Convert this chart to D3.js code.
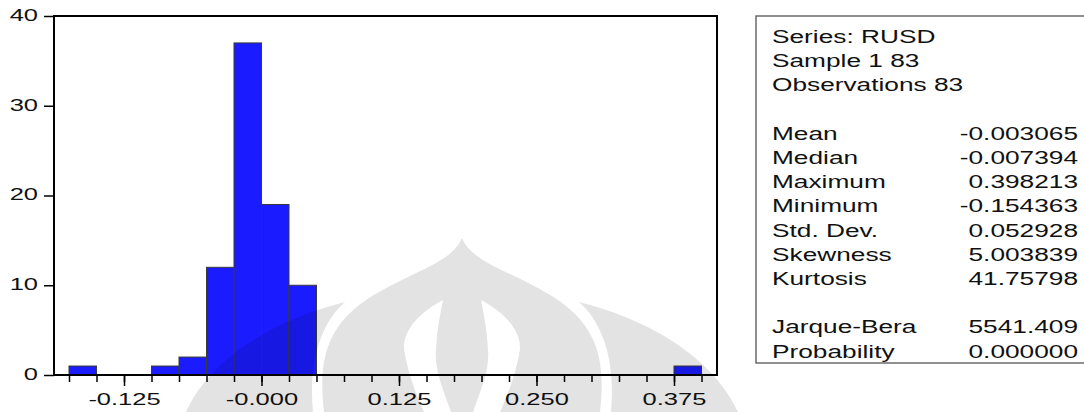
<!DOCTYPE html>
<html>
<head>
<meta charset="utf-8">
<script src="https://cdn.jsdelivr.net/npm/d3@7"></script>
<style>
  body { margin: 0; background: #fff; }
  text { font-family: "Liberation Sans", Arial, sans-serif; fill: #111; }
</style>
</head>
<body>
<svg id="chart" width="1084" height="412"></svg>
<script>
// histogram of RUSD, bins of width 0.025 (only non-empty bins listed)
const binStarts = [-0.175, -0.1, -0.075, -0.05, -0.025, 0, 0.025, 0.375];
const binCounts = [1, 1, 2, 12, 37, 19, 10, 1];
const binWidth = 0.025;

// axis ticks
const xMajorTicks = [-0.125, 0, 0.125, 0.25, 0.375];
const xTickLabels = ["-0.125", "-0.000", "0.125", "0.250", "0.375"];
const yTicks = [0, 10, 20, 30, 40];

// stats panel
const statHeader = ["Series: RUSD", "Sample 1 83", "Observations 83"];
const statNames = ["Mean", "Median", "Maximum", "Minimum", "Std. Dev.", "Skewness", "Kurtosis"];
const statValues = ["-0.003065", "-0.007394", "0.398213", "-0.154363", "0.052928", "5.003839", "41.75798"];
const testNames = ["Jarque-Bera", "Probability"];
const testValues = ["5541.409", "0.000000"];

const svg = d3.select("#chart");
const pLeft = 54, pTop = 16, pRight = 717, pBottom = 375;

const x = d3.scaleLinear().domain([-0.18864, 0.41409]).range([pLeft, pRight]);
const y = d3.scaleLinear().domain([0, 40]).range([pBottom, pTop]);

// bars
svg.append("g").selectAll("rect")
  .data(binStarts.map((s, i) => ({ lo: s, n: binCounts[i] })))
  .join("rect")
  .attr("x", d => x(d.lo))
  .attr("width", d => x(d.lo + binWidth) - x(d.lo))
  .attr("y", d => y(d.n))
  .attr("height", d => y(0) - y(d.n))
  .attr("fill", "#1b1bff")
  .attr("stroke", "#3a3a3a")
  .attr("stroke-width", 1);

// frame
svg.append("rect")
  .attr("x", pLeft).attr("y", pTop)
  .attr("width", pRight - pLeft).attr("height", pBottom - pTop)
  .attr("fill", "none").attr("stroke", "#000").attr("stroke-width", 2);

const sx = 1.5; // the original text is stretched horizontally

// minor x ticks every 0.025
const minor = d3.range(-0.175, 0.4001, 0.025);
svg.append("g")
  .attr("transform", `translate(0,${pBottom})`)
  .call(d3.axisBottom(x).tickValues(minor).tickSize(7).tickFormat(""))
  .call(g => g.select(".domain").remove())
  .selectAll("line").attr("stroke", "#000").attr("stroke-width", 1.5);

// major x ticks with labels
svg.append("g")
  .attr("transform", `translate(0,${pBottom})`)
  .call(d3.axisBottom(x).tickValues(xMajorTicks).tickSize(11)
    .tickFormat((d, i) => xTickLabels[i]))
  .call(g => g.select(".domain").remove())
  .call(g => g.selectAll("line").attr("stroke", "#000").attr("stroke-width", 1.5))
  .call(g => g.selectAll("text")
    .attr("y", 30).attr("dy", 0)
    .attr("font-size", 17)
    .attr("fill", "#111")
    .attr("transform", `scale(${sx},1)`));

// y axis
svg.append("g")
  .attr("transform", `translate(${pLeft},0)`)
  .call(d3.axisLeft(y).tickValues(yTicks).tickSize(10))
  .call(g => g.select(".domain").remove())
  .call(g => g.selectAll("line").attr("stroke", "#000").attr("stroke-width", 1.5))
  .call(g => g.selectAll("text")
    .attr("x", -16 / sx)
    .attr("dy", "0.26em")
    .attr("font-size", 17)
    .attr("fill", "#111")
    .attr("transform", `scale(${sx},1)`));

// stats box
const bx = 756, by = 16, bh = 347;
svg.append("rect")
  .attr("x", bx).attr("y", by).attr("width", 400).attr("height", bh)
  .attr("fill", "#fff").attr("stroke", "#555").attr("stroke-width", 1.3);

const lineH = 24.2, base0 = 43, tx = 772, vx = 1078, ssx = 1.42, fs = 18.5;
function put(str, xx, row, anchor) {
  svg.append("text")
    .attr("transform", `translate(${xx},${base0 + row * lineH}) scale(${ssx},1)`)
    .attr("text-anchor", anchor)
    .attr("font-size", fs)
    .text(str);
}
statHeader.forEach((s, i) => put(s, tx, i, "start"));
statNames.forEach((s, i) => { put(s, tx, 4 + i, "start"); put(statValues[i], vx, 4 + i, "end"); });
testNames.forEach((s, i) => { put(s, tx, 12 + i, "start"); put(testValues[i], vx, 12 + i, "end"); });

// faint watermark logo (decoration only) over the lower part of the plot
const wm = svg.append("g").attr("fill", "#000").attr("fill-opacity", 0.11);
// central dome with two white openings
wm.append("path").attr("fill-rule", "evenodd").attr("d",
  "M324,412 C318,360 326,325 372,296 C420,268 452,262 462,238 C472,262 504,268 552,296 C598,325 606,360 600,412 Z" +
  "M443,300 C415,315 400,335 405,355 C410,380 418,398 424,412 L451,412 C444,392 434,370 436,350 C437,330 440,315 443,300 Z" +
  "M481,300 C509,315 524,335 519,355 C514,380 506,398 500,412 L473,412 C480,392 490,370 488,350 C487,330 484,315 481,300 Z");
// side petals
wm.append("path").attr("d",
  "M186,412 C205,370 255,325 345,302 C322,322 308,360 313,412 Z");
wm.append("path").attr("d",
  "M738,412 C719,370 669,325 579,302 C602,322 616,360 611,412 Z");
</script>
</body>
</html>
